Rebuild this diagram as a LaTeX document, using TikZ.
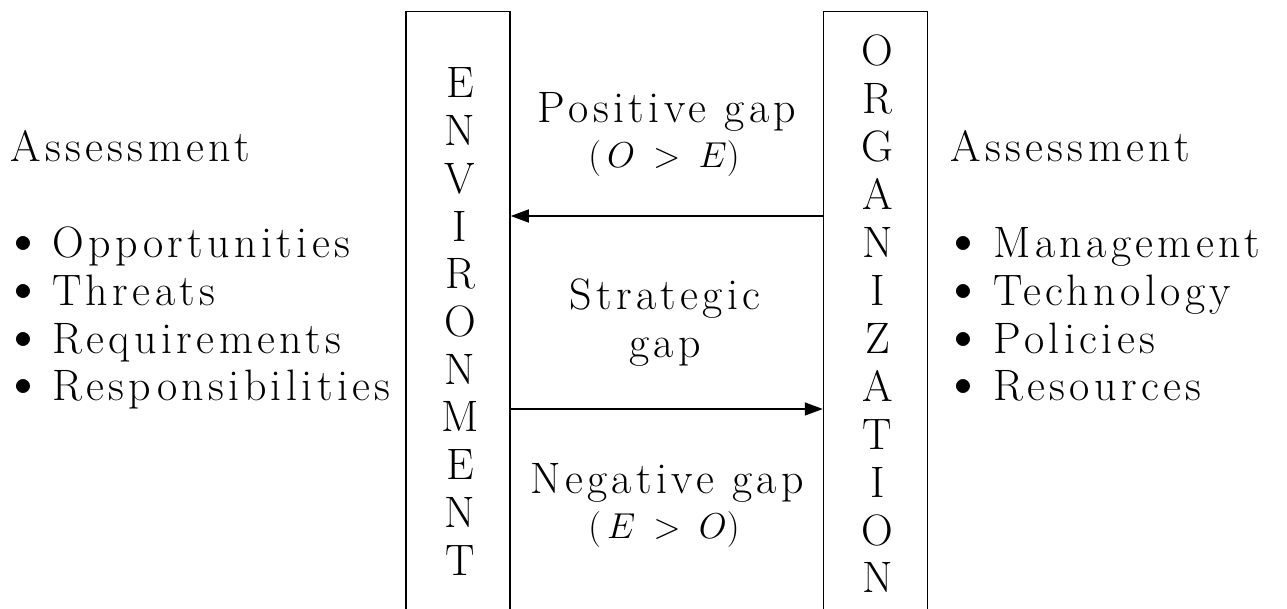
\RequirePackage{fix-cm}
\documentclass[tikz,border=0pt]{standalone}
\usepackage{fontspec}
\setmainfont{Latin Modern Roman}[LetterSpace=10]
\usetikzlibrary{arrows.meta}
\newcommand{\mybul}{\raisebox{5pt}{\fontsize{36}{36}\selectfont$\bullet$}}
\tikzset{
  txt/.style={inner sep=0pt, font=\fontsize{44}{48}\selectfont},
  mth/.style={inner sep=0pt, anchor=base, font=\fontsize{36}{40}\selectfont},
  lbl/.style={txt, anchor=base west},
  ctr/.style={txt, anchor=base},
  bar/.style={draw, line width=1.5pt, minimum width=104pt, minimum height=700pt, anchor=north, inner sep=0pt},
  gaparrow/.style={line width=1.5pt, -{Triangle[length=18pt,width=13pt]}},
}
\begin{document}
\begin{tikzpicture}[x=1pt,y=-1pt]
\useasboundingbox (0,0) rectangle (1287,609);
\clip (0,0) rectangle (1287,609);
% bars
\node[bar] (env) at (458,11) {};
\node[bar] (org) at (875.5,11) {};
% vertical letters
\foreach \c [count=\i from 0] in {E,N,V,I,R,O,N,M,E,N,T}
  \node[ctr] (env\i) at (460,{98+47.7*\i}) {\c};
\foreach \c [count=\i from 0] in {O,R,G,A,N,I,Z,A,T,I,O,N}
  \node[ctr] (org\i) at (877.5,{66+47.9*\i}) {\c};
% arrows
\coordinate (ua) at (0,216);
\coordinate (la) at (0,409);
\draw[gaparrow] (org.west |- ua) -- (env.east |- ua);
\draw[gaparrow] (env.east |- la) -- (org.west |- la);
% centre texts
\node[ctr] (pos1) at (667,123) {Positive gap};
\node[mth] (pos2) at (664,168) {$(\,O\:>\:E)$};
\node[ctr] (str1) at (665,310) {Strategic};
\node[ctr] (str2) at (665,357) {gap};
\node[ctr] (neg1) at (667,493) {Negative gap};
\node[mth] (neg2) at (664,538) {$(\,E\:>\:O)$};
% left list
\node[lbl] (lhead) at (10,162) {Assessment};
\foreach \t [count=\i from 0] in {Opportunities,Threats,Requirements,Responsibilities} {
  \node[lbl] (lb\i) at (14,{258+47.5*\i}) {\mybul};
  \node[lbl] (lt\i) at (52,{258+47.5*\i}) {\t};
}
% right list
\node[lbl] (rhead) at (950,162) {Assessment};
\foreach \t [count=\i from 0] in {Management,Technology,Policies,Resources} {
  \node[lbl] (rb\i) at (954,{258+47.5*\i}) {\mybul};
  \node[lbl] (rt\i) at (993,{258+47.5*\i}) {\t};
}
\end{tikzpicture}
\end{document}
